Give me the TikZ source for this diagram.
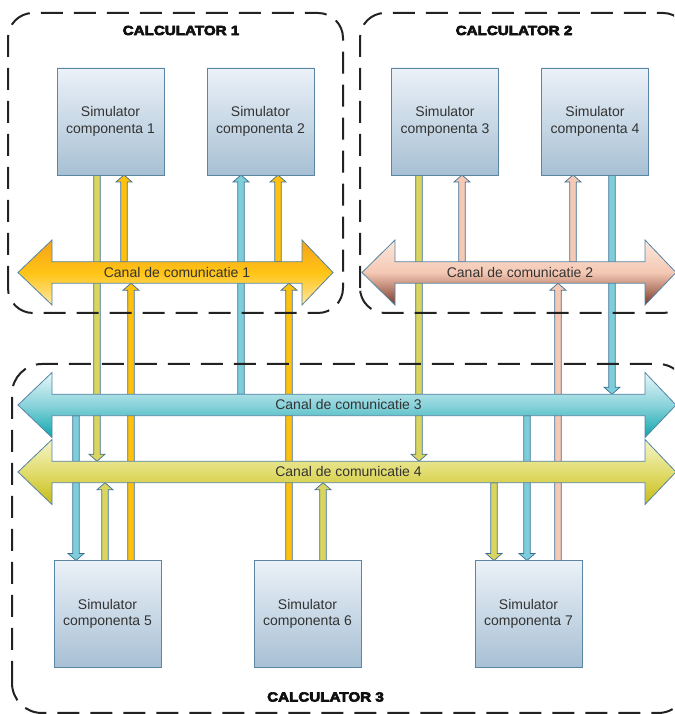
\documentclass[tikz,border=0pt]{standalone}
\usepackage{fontspec}
\setmainfont{Liberation Sans}
\newfontfamily\titlefont{Liberation Sans Bold}[FakeBold=5,FakeStretch=1.15]
\usetikzlibrary{calc}

\pgfdeclarelayer{conn}
\pgfdeclarelayer{chan}
\pgfsetlayers{conn,chan,main}

\definecolor{boxtop}{HTML}{EBF1F8}
\definecolor{boxbot}{HTML}{A7C0D4}
\definecolor{boxline}{HTML}{5A86A4}
\definecolor{textgray}{HTML}{333333}
\definecolor{titleblack}{HTML}{101010}
\definecolor{dashgray}{HTML}{222222}
\definecolor{linkline}{HTML}{3D6F96}
\definecolor{canalline}{HTML}{5583A3}
\definecolor{khakic}{HTML}{DAD55E}
\definecolor{orangec}{HTML}{FFC10E}
\definecolor{cyanc}{HTML}{7DCEDA}
\definecolor{salmonc}{HTML}{F6C9B4}
% channel gradients (top, middle, bottom)
\definecolor{ka}{HTML}{F5A21A}\definecolor{kb}{HTML}{FFC415}\definecolor{kc}{HTML}{FFE8A3}
\definecolor{la}{HTML}{FCE7DC}\definecolor{lb}{HTML}{F4C8B3}\definecolor{lc}{HTML}{7B3A2A}
\definecolor{ma}{HTML}{E6F6F9}\definecolor{mb}{HTML}{8AD3DB}\definecolor{mc}{HTML}{0EA6AC}
\definecolor{na}{HTML}{F4F4C8}\definecolor{nb}{HTML}{E1DC6E}\definecolor{nc}{HTML}{C6BC15}

\tikzset{
  sim/.style={draw=boxline, line width=0.9pt, top color=boxtop, bottom color=boxbot,
    minimum width=107pt, minimum height=107pt, align=center, text=textgray,
    font=\fontsize{14}{16.7}\selectfont, inner sep=0pt, outer sep=0pt},
  canal/.style={minimum height=21.5pt, inner sep=0pt, outer sep=0pt, text=textgray,
    font=\fontsize{14}{16}\selectfont},
  calcbox/.style={draw=dashgray, line width=2pt, dash pattern=on 22pt off 11pt},
  calctitle/.style={font=\titlefont\fontsize{13.2}{15}\selectfont, text=titleblack},
}

% double-headed channel body behind a canal node
% #1 node, #2 left head length, #3 right head length, #4/#5/#6 top/middle/bottom colours
\newcommand\channel[6]{%
  \begin{pgfonlayer}{chan}
  \draw[draw=canalline, line width=0.8pt, line join=miter,
        top color=#4, bottom color=#6, middle color=#5]
    (#1.north west) -- ++(0,21.75) -- ($(#1.west)+(-#2,0)$)
    -- ($(#1.south west)+(0,-21.75)$) -- (#1.south west) -- (#1.south east)
    -- ++(0,-21.75) -- ($(#1.east)+(#3,0)$) -- ($(#1.north east)+(0,21.75)$)
    -- (#1.north east) -- cycle;
  \end{pgfonlayer}}

% vertical block arrow: #1 fill, #2 point giving x, #3 start, #4 end (tip)
\newcommand\link[4]{%
  \begin{pgfonlayer}{conn}
  \filldraw[fill=#1, draw=linkline, line width=0.7pt, line join=miter]
    let \p3=(#2), \p1=(#3), \p2=(#4), \n2={ifthenelse(\y2>\y1,7,-7)} in
    ({\x3-3.2pt},\y1) -- ({\x3-3.2pt},{\y2-(\n2)*1pt}) -- ({\x3-8pt},{\y2-(\n2)*1pt})
    -- (\x3,\y2) -- ({\x3+8pt},{\y2-(\n2)*1pt}) -- ({\x3+3.2pt},{\y2-(\n2)*1pt})
    -- ({\x3+3.2pt},\y1) -- cycle;
  \end{pgfonlayer}}

\begin{document}
\begin{tikzpicture}[x=1pt,y=1pt]
\useasboundingbox (0,0) rectangle (674,714);
\clip (0,0) rectangle (674,714);

% simulators
\node[sim] (s1) at (110.5,592.5) {Simulator\\componenta 1};
\node[sim] (s2) at (260.5,592.5) {Simulator\\componenta 2};
\node[sim] (s3) at (445,592.5)   {Simulator\\componenta 3};
\node[sim] (s4) at (595,592.5)   {Simulator\\componenta 4};
\node[sim] (s5) at (107.5,100)   {Simulator\\componenta 5};
\node[sim] (s6) at (307.5,100)   {Simulator\\componenta 6};
\node[sim] (s7) at (528.5,100)   {Simulator\\componenta 7};

% communication channels
\node[canal, minimum width=250pt] (k1) at (177,441.5)   {Canal de comunicatie 1};
\node[canal, minimum width=250pt] (k2) at (520,441.5)   {Canal de comunicatie 2};
\node[canal, minimum width=593pt] (k3) at (348.5,309)   {Canal de comunicatie 3};
\node[canal, minimum width=593pt] (k4) at (348.5,242)   {Canal de comunicatie 4};
\channel{k1}{34}{31}{ka}{kb}{kc}
\channel{k2}{33}{31}{la}{lb}{lc}
\channel{k3}{34}{31}{ma}{mb}{mc}
\channel{k4}{34}{31}{na}{nb}{nc}

% links of the upper simulators
\link{khakic}{$(s1.south)+(-13.5,0)$}{s1.south}{k4.north}
\link{orangec}{$(s1.south)+(13.5,0)$}{k1.north}{s1.south}
\link{cyanc}{$(s2.south)+(-19.5,0)$}{k3.north}{s2.south}
\link{orangec}{$(s2.south)+(17.5,0)$}{k1.north}{s2.south}
\link{khakic}{$(s3.south)+(-26,0)$}{s3.south}{k4.north}
\link{salmonc}{$(s3.south)+(17,0)$}{k2.north}{s3.south}
\link{salmonc}{$(s4.south)+(-22,0)$}{k2.north}{s4.south}
\link{cyanc}{$(s4.south)+(17,0)$}{s4.south}{k3.north}

% links of the lower simulators
\link{cyanc}{$(s5.north)+(-31.5,0)$}{k3.south}{s5.north}
\link{khakic}{$(s5.north)+(-2.5,0)$}{s5.north}{k4.south}
\link{orangec}{$(s5.north)+(23.5,0)$}{s5.north}{k1.south}
\link{orangec}{$(s6.north)+(-18.5,0)$}{s6.north}{k1.south}
\link{khakic}{$(s6.north)+(15.5,0)$}{s6.north}{k4.south}
\link{khakic}{$(s7.north)+(-34.5,0)$}{k4.south}{s7.north}
\link{cyanc}{$(s7.north)+(-1.5,0)$}{k3.south}{s7.north}
\link{salmonc}{$(s7.north)+(29.5,0)$}{s7.north}{k2.south}

% computers
\draw[calcbox, rounded corners=25pt] (8,401) rectangle (343,701);
\draw[calcbox, rounded corners=25pt] (360,401) rectangle (688,701);
\draw[calcbox, rounded corners=30pt] (12,1) rectangle (688,350);
\node[calctitle] (t1) at (181,683.5) {CALCULATOR 1};
\node[calctitle] (t2) at (514,683.5) {CALCULATOR 2};
\node[calctitle] (t3) at (325.5,17)  {CALCULATOR 3};
\end{tikzpicture}
\end{document}
